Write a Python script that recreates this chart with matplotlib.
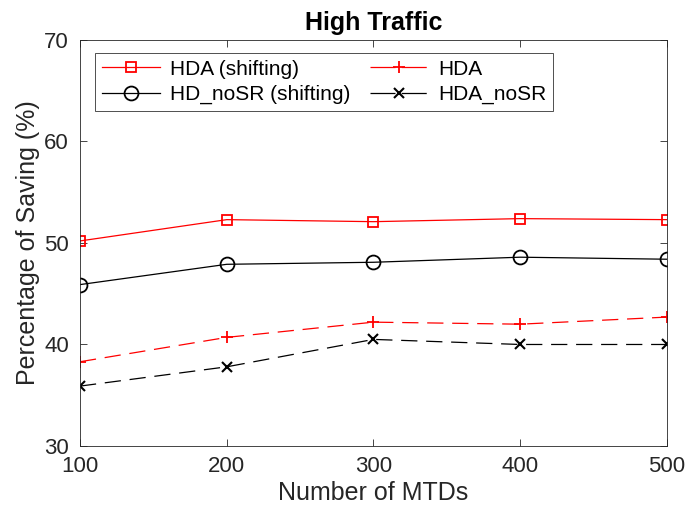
import matplotlib
matplotlib.use("Agg")
import matplotlib.pyplot as plt
from matplotlib.lines import Line2D

plt.rcParams['font.family'] = ['Liberation Sans', 'DejaVu Sans']

mtds = [100, 200, 300, 400, 500]
hda_shift = [50.2, 52.3, 52.1, 52.4, 52.3]
hd_nosr_shift = [45.9, 47.9, 48.1, 48.6, 48.4]
hda = [38.3, 40.7, 42.2, 42.0, 42.7]
hda_nosr = [35.9, 37.8, 40.5, 40.0, 40.0]

fig = plt.figure(figsize=(6.86, 5.16), dpi=100)
ax = fig.add_axes([0.1166, 0.1357, 0.8557, 0.7868])

dash = (0, (13, 7))
ax.plot(mtds, hda_shift, color="red", lw=0.9, marker="s", ms=7, mfc="none", mew=1.3)
ax.plot(mtds, hda, color="red", lw=0.9, ls=dash, marker="+", ms=9, mew=1.3)
ax.plot(mtds, hd_nosr_shift, color="black", lw=0.9, marker="o", ms=10, mfc="none", mew=1.3)
ax.plot(mtds, hda_nosr, color="black", lw=0.9, ls=dash, marker="x", ms=6.5, mew=1.5)

ax.set_xlim(100, 500)
ax.set_ylim(30, 70)
ax.set_xticks(mtds)
ax.set_yticks([30, 40, 50, 60, 70])
ax.tick_params(direction="in", top=True, right=True, labelsize=16, length=5,
               width=0.6, colors="#262626")
ax.tick_params(axis="x", pad=7)
ax.tick_params(axis="y", pad=8)
for s in ax.spines.values():
    s.set_linewidth(0.6)
    s.set_color("#262626")

ax.set_xlabel("Number of MTDs", fontsize=18, color="#262626", labelpad=3)
ax.set_ylabel("Percentage of Saving (%)", fontsize=18, color="#262626", labelpad=3)
ax.set_title("High Traffic", fontsize=18, fontweight="bold", pad=7)

# legend samples: dashed ones drawn as two long dashes either side of the marker
leg_dash = (0, (20, 5))
handles = [
    Line2D([], [], color="red", lw=0.9, marker="s", ms=7, mfc="none", mew=1.3),
    Line2D([], [], color="black", lw=0.9, marker="o", ms=10, mfc="none", mew=1.3),
    Line2D([], [], color="red", lw=0.9, ls=leg_dash, marker="+", ms=9, mew=1.3),
    Line2D([], [], color="black", lw=0.9, ls=leg_dash, marker="x", ms=6.5, mew=1.5),
]
labels = ["HDA (shifting)", "HD_noSR (shifting)", "HDA", "HDA_noSR"]
leg = ax.legend(handles, labels, ncol=2,
                loc="upper left", bbox_to_anchor=(0.0256, 0.968), fontsize=15,
                frameon=True, fancybox=False, edgecolor="black", handlelength=2.8,
                columnspacing=0.9, handletextpad=0.5, borderpad=0.32, labelspacing=0.3,
                borderaxespad=0)
leg.get_frame().set_linewidth(0.6)

fig.savefig("out.png", dpi=100)
